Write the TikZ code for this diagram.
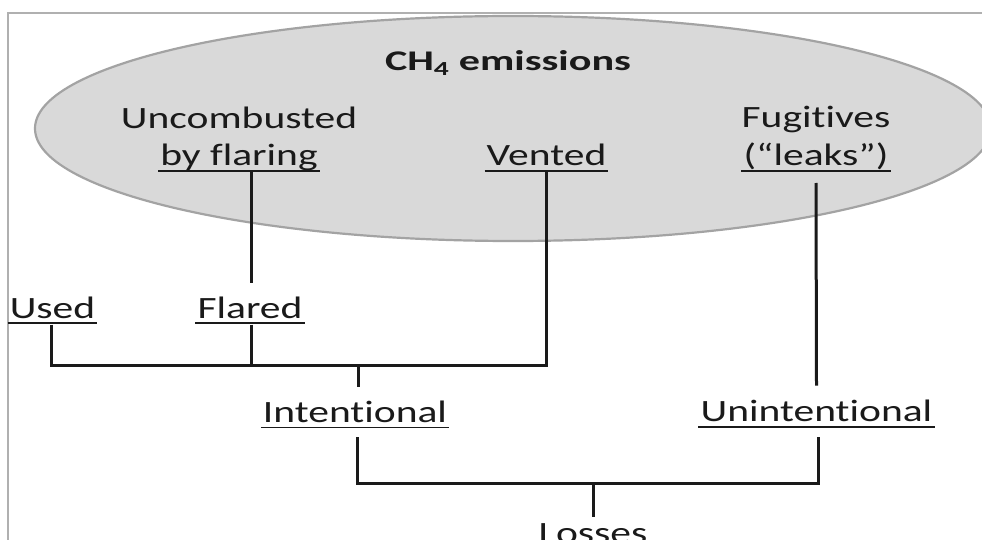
\documentclass[tikz,border=0pt]{standalone}
\usepackage{fontspec}
\setmainfont{Carlito}[FakeStretch=1.34, Ligatures=NoCommon]
\newfontfamily\titlefont{Carlito}[FakeStretch=1.48, Ligatures=NoCommon]
\usetikzlibrary{calc,shapes.geometric}
\definecolor{txt}{HTML}{1A1A1A}
\definecolor{cloudfill}{HTML}{D9D9D9}
\definecolor{cloudline}{HTML}{A3A3A3}
\definecolor{framegray}{HTML}{B0B0B0}
\begin{document}
\begin{tikzpicture}[x=1pt,y=-1pt,
  lbl/.style={inner sep=0pt, anchor=base, text=txt, font=\fontsize{31}{37}\selectfont},
  ttl/.style={inner sep=0pt, anchor=base, text=txt, font=\titlefont\bfseries\fontsize{28.5}{34}\selectfont},
  conn/.style={line width=3pt, draw=txt, line join=miter},
  uline/.style={line width=1.8pt, draw=txt},
  cloud/.style={ellipse, draw=cloudline, fill=cloudfill, line width=2.2pt, inner sep=0pt,
    minimum width=956pt, minimum height=225pt}]
\useasboundingbox (0,0) rectangle (982,540);
\clip (0,0) rectangle (982,540);
\fill[white] (0,0) rectangle (982,540);
% frame
\coordinate (fbl) at (8,541);
\coordinate (ftl) at (8,13);
\coordinate (ftr) at (983,13);
\draw[framegray, line width=1.1pt] (fbl) -- (ftl) -- (ftr);
% cloud
\node[cloud] (cloudshape) at (513,128.5) {};
% texts
\node[ttl] (title) at (508,71) {CH\textsubscript{4} emissions};
\node[lbl] (unc1) at (239,128.5) {Uncombusted};
\node[lbl] (unc2) at (239,166) {by flaring};
\node[lbl] (vented) at (546.5,166) {Vented};
\node[lbl] (fug1) at (816,128) {Fugitives};
\node[lbl] (fug2) at (816,166) {(“leaks”)};
\node[lbl] (used) at (52.5,318) {Used};
\node[lbl] (flared) at (250,318) {Flared};
\node[lbl] (intent) at (355,422.5) {Intentional};
\node[lbl] (unint) at (816.5,421.7) {Unintentional};
\node[lbl] (losses) at (593,543) {Losses};
% underlines
\foreach \n in {unc2,vented,fug2,used,flared,intent,unint}{
  \draw[uline] ($(\n.base west)+(-2,5)$) -- ($(\n.base east)+(2,5)$);
}
% connectors
\draw[conn] ($(unc2.base)+(12,6.5)$) -- ($(flared.base)+(1,-35)$);
\draw[conn] ($(used.base)+(-0.8,6.5)$) -- ($(used.base)+(-0.8,47)$) -| ($(vented.base)+(0,6.5)$);
\draw[conn] ($(flared.base)+(1,6.5)$) -- ($(flared.base)+(1,47)$);
\draw[conn] ($(intent.base)+(3,-57)$) -- ($(intent.base)+(3,-35.5)$);
\draw[conn] ($(intent.base)+(2,14.5)$) |- ($(losses.base)+(0,-60)$) -| ($(unint.base)+(1.5,15)$);
\draw[conn] ($(losses.base)+(0,-60)$) -- ($(losses.base)+(0,-26)$);
\draw[conn] ($(fug2.base)+(0,17)$) -- ($(unint.base)+(0,-36)$);
\end{tikzpicture}
\end{document}
